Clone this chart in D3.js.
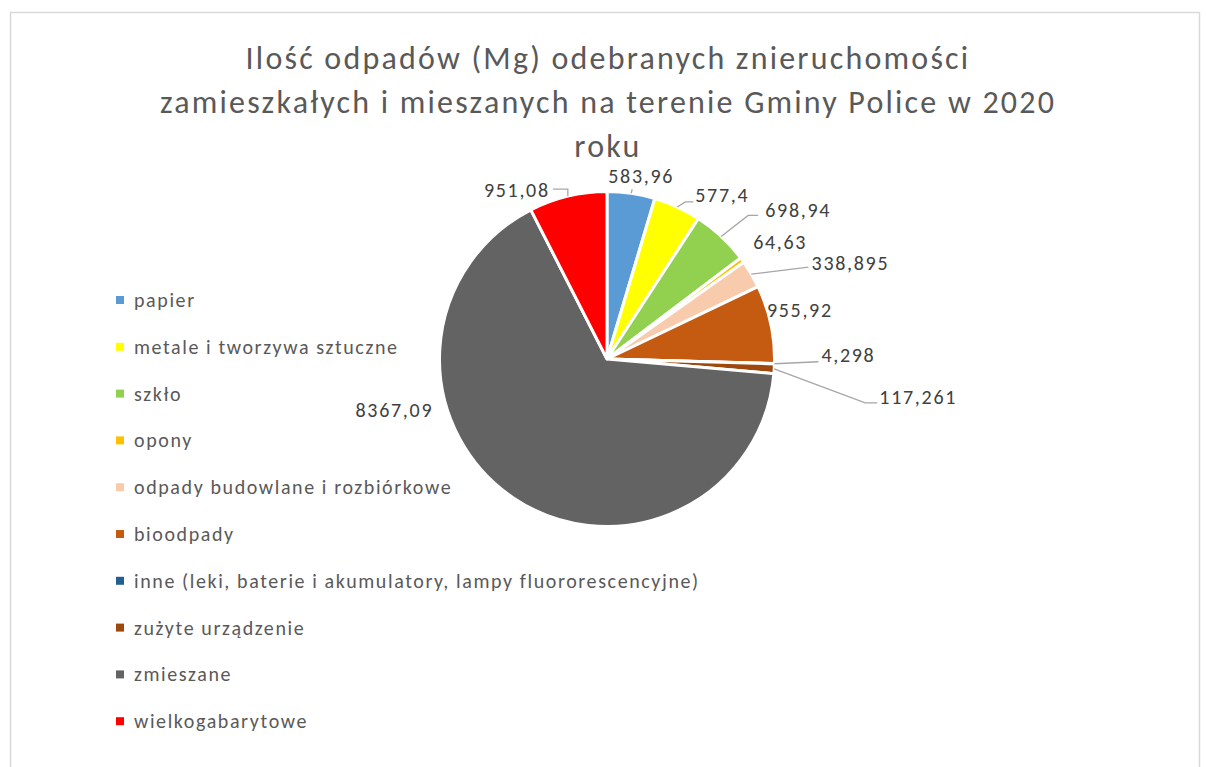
<!DOCTYPE html>
<html>
<head>
<meta charset="utf-8">
<script src="https://cdn.jsdelivr.net/npm/d3@7"></script>
<style>
  html, body { margin: 0; padding: 0; background: #fff; }
  svg { display: block; }
</style>
</head>
<body>
<svg id="chart" width="1206" height="767"></svg>
<script>
// Waste categories and collected mass (Mg)
const categories = [
  "papier",
  "metale i tworzywa sztuczne",
  "szkło",
  "opony",
  "odpady budowlane i rozbiórkowe",
  "bioodpady",
  "inne (leki, baterie i akumulatory, lampy fluororescencyjne)",
  "zużyte urządzenie",
  "zmieszane",
  "wielkogabarytowe"
];
const values = [583.96, 577.4, 698.94, 64.63, 338.895, 955.92, 4.298, 117.261, 8367.09, 951.08];
const valueLabels = ["583,96", "577,4", "698,94", "64,63", "338,895", "955,92", "4,298", "117,261", "8367,09", "951,08"];
const colors = ["#5B9BD5", "#FFFF00", "#92D050", "#FFC000", "#F8CBAD", "#C55A11", "#255E91", "#9E480E", "#636363", "#FF0000"];
const titleLines = [
  "Ilość odpadów (Mg) odebranych znieruchomości",
  "zamieszkałych i mieszanych na terenie Gminy Police w 2020",
  "roku"
];

// Label placement relative to the slice's outer edge point:
// [dx, dy] of the text centre, and optional leader bend points (relative too)
const labelLayout = [
  { d: [10, -17], leader: [[1, -4]] },
  { d: [45, -12], leader: [[8, -5], [16, -5]] },
  { d: [77, -26], leader: [[27, -21], [37, -21]] },
  { d: [38, -18], leader: null },
  { d: [99, -11], leader: [[57, -7]] },
  { d: [29, -14], leader: null },
  { d: [74, -9], leader: [[44, -2]] },
  { d: [144, 28], leader: [[91, 34], [103, 34]] },
  { d: [-119, -88], leader: null },
  { d: [-51, -6], leader: [[0, -7], [-15, -7]] }
];

const svg = d3.select("#chart");
const font = "Carlito, Lato, 'Liberation Sans', sans-serif";

// chart frame
svg.append("path")
  .attr("d", "M10.5,780 L10.5,12.5 L1199.5,12.5 L1199.5,780")
  .attr("fill", "none")
  .attr("stroke", "#d9d9d9")
  .attr("stroke-width", 1.5);

// title
svg.append("g").selectAll("text")
  .data(titleLines)
  .join("text")
  .attr("x", 608)
  .attr("y", (d, i) => 69 + i * 44)
  .attr("text-anchor", "middle")
  .attr("font-family", font)
  .attr("font-size", 32)
  .attr("letter-spacing", 2.2)
  .attr("fill", "#595959")
  .text(d => d);

// pie
const cx = 607, cy = 359, r = 167.5;
const pie = d3.pie().sort(null).value(d => d);
const arcs = pie(values);
const arc = d3.arc().innerRadius(0).outerRadius(r);

const g = svg.append("g").attr("transform", `translate(${cx},${cy})`);
g.selectAll("path.slice")
  .data(arcs)
  .join("path")
  .attr("class", "slice")
  .attr("d", arc)
  .attr("fill", (d, i) => colors[i])
  .attr("stroke", "#fff")
  .attr("stroke-width", 3)
  .attr("stroke-linejoin", "round");

// outer edge point of a slice at its middle angle
function edgePoint(d) {
  const a = (d.startAngle + d.endAngle) / 2;
  return [r * Math.sin(a), -r * Math.cos(a)];
}

// leader lines
arcs.forEach((d, i) => {
  const lay = labelLayout[i];
  if (!lay.leader) return;
  const p = edgePoint(d);
  const pts = [p].concat(lay.leader.map(q => [p[0] + q[0], p[1] + q[1]]));
  g.append("path")
    .attr("d", d3.line()(pts))
    .attr("fill", "none")
    .attr("stroke", "#a6a6a6")
    .attr("stroke-width", 1.3);
});

// data labels
g.selectAll("text.val")
  .data(arcs)
  .join("text")
  .attr("class", "val")
  .attr("x", (d, i) => edgePoint(d)[0] + labelLayout[i].d[0])
  .attr("y", (d, i) => edgePoint(d)[1] + labelLayout[i].d[1])
  .attr("dy", "0.35em")
  .attr("text-anchor", "middle")
  .attr("font-family", font)
  .attr("font-size", 20)
  .attr("letter-spacing", 1.7)
  .attr("fill", "#404040")
  .text((d, i) => valueLabels[i]);

// legend
const legend = svg.append("g");
const item = legend.selectAll("g")
  .data(categories)
  .join("g")
  .attr("transform", (d, i) => `translate(116,${300 + i * 46.8})`);
item.append("rect")
  .attr("x", 0).attr("y", -4)
  .attr("width", 8).attr("height", 8)
  .attr("fill", (d, i) => colors[i]);
item.append("text")
  .attr("x", 18)
  .attr("dy", "0.35em")
  .attr("font-family", font)
  .attr("font-size", 20)
  .attr("letter-spacing", 1.6)
  .attr("fill", "#595959")
  .text(d => d);
</script>
</body>
</html>
